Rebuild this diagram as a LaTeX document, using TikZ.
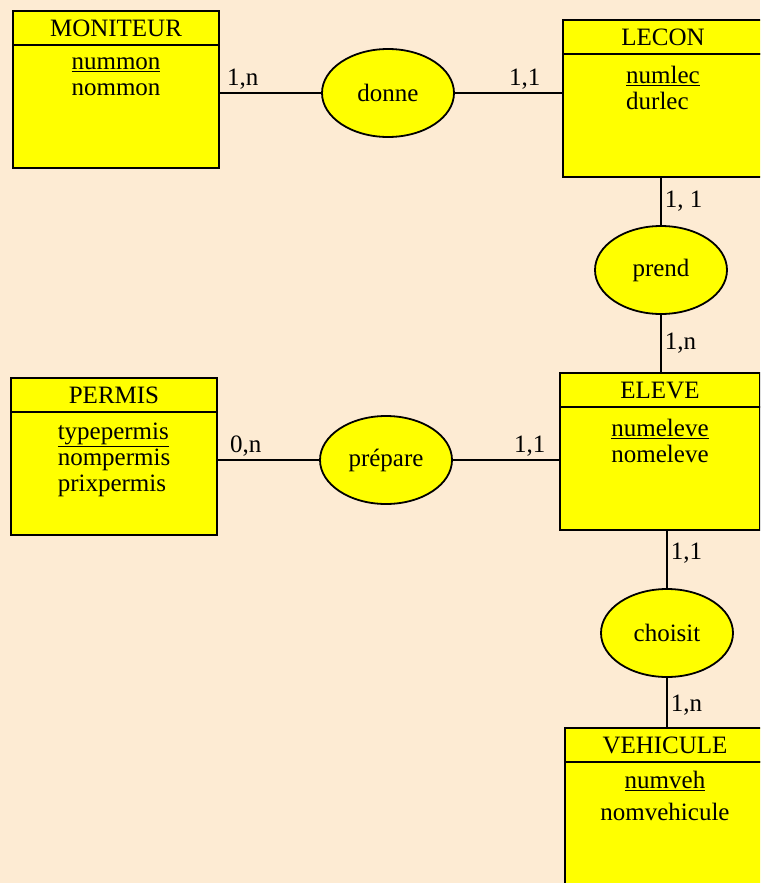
\documentclass[tikz,border=0pt]{standalone}
\usepackage{fontspec}
\setmainfont{Liberation Serif}
\usetikzlibrary{shapes.geometric,positioning}
\definecolor{fond}{RGB}{253,235,211}
\definecolor{jaune}{RGB}{255,255,0}
\tikzset{
 entete/.style={rectangle,draw,fill=jaune,line width=1.8pt,outer sep=0pt,inner sep=0pt,
  minimum width=206pt,minimum height=34pt},
 corps/.style={rectangle,draw,fill=jaune,line width=1.8pt,outer sep=0pt,inner sep=0pt,
  minimum width=206pt,minimum height=123pt},
 attributs/.style={align=left,inner sep=0pt},
 relation/.style={ellipse,draw,fill=jaune,line width=1.8pt,outer sep=0pt,inner sep=0pt,
  minimum width=132pt,minimum height=88pt},
 lien/.style={line width=1.8pt},
 card/.style={inner sep=3pt}
}
\begin{document}
\begin{tikzpicture}[x=1pt,y=-1pt,font=\fontsize{25}{26}\selectfont]
\fill[fond](0,0)rectangle(760,883);
\useasboundingbox(0,0)rectangle(760,883);
\clip(0,0)rectangle(760,883);
%entites
\node[entete]at(116,28)(moniteur){MONITEUR};
\node[corps,below=0pt of moniteur](moniteur-b){};
\node[attributs,below=13pt of moniteur-b.north](moniteur-a){\underline{nummon}\\nommon};
\node[entete,minimum width=200pt]at(663,37)(lecon){LECON};
\node[corps,minimum width=200pt,below=0pt of lecon](lecon-b){};
\node[attributs,below=12pt of lecon-b.north](lecon-a){\underline{numlec}\\durlec};
\node[entete]at(114,395)(permis){PERMIS};
\node[corps,below=0pt of permis](permis-b){};
\node[attributs,below=11pt of permis-b.north](permis-a){\underline{typepermis}\\nompermis\\prixpermis};
\node[entete,minimum width=200pt]at(660,390)(eleve){ELEVE};
\node[corps,minimum width=200pt,below=0pt of eleve](eleve-b){};
\node[attributs,below=12pt of eleve-b.north](eleve-a){\underline{numeleve}\\nomeleve};
\node[entete,minimum width=200pt]at(665,745)(vehicule){VEHICULE};
\node[corps,minimum width=200pt,below=0pt of vehicule](vehicule-b){};
\node[attributs,align=center,below=9pt of vehicule-b.north](vehicule-a){\underline{numveh}\\[6pt]nomvehicule};
%associations
\node[relation]at(388,93)(donne){donne};
\node[relation]at(661,270)(prend){prend};
\node[relation]at(386,460)(prepare){prépare};
\node[relation]at(667,633)(choisit){choisit};
%liens
\draw[lien](moniteur-b.east|-donne.west)--(donne.west) node[card,pos=.23,above]{1,n};
\draw[lien](donne.east)--(donne.east-|lecon-b.west) node[card,pos=.65,above]{1,1};
\draw[lien](prend.north|-lecon-b.south)--(prend.north) node[card,pos=.5,right]{1, 1};
\draw[lien](prend.south)--(prend.south|-eleve.north) node[card,pos=.5,right]{1,n};
\draw[lien](permis-b.east|-prepare.west)--(prepare.west) node[card,pos=.28,above]{0,n};
\draw[lien](prepare.east)--(prepare.east-|eleve-b.west) node[card,pos=.72,above]{1,1};
\draw[lien](choisit.north|-eleve-b.south)--(choisit.north) node[card,pos=.4,right]{1,1};
\draw[lien](choisit.south)--(choisit.south|-vehicule.north) node[card,pos=.55,right]{1,n};
\end{tikzpicture}
\end{document}
